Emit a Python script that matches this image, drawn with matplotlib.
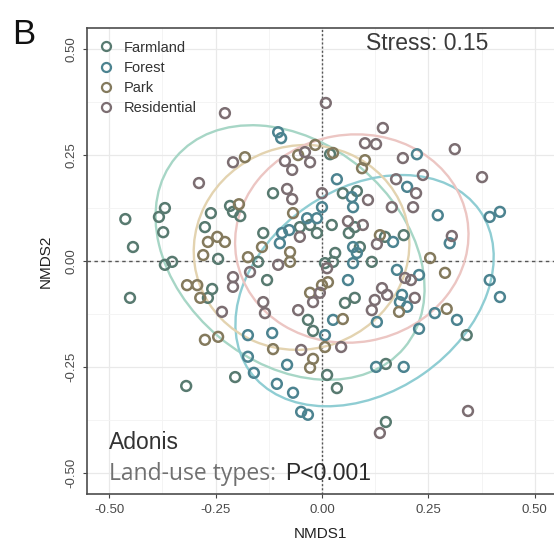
import matplotlib
matplotlib.use("Agg")
import matplotlib.pyplot as plt
from matplotlib.patches import Ellipse
from matplotlib.lines import Line2D

# =========================
# DATA (NMDS scores)
# =========================

groups = ["Farmland", "Forest", "Park", "Residential"]

farm_x = [-0.462, -0.444, -0.451, -0.383, -0.369, -0.373, -0.369, -0.352, -0.268, -0.258,
          -0.319, -0.261, -0.275, -0.244, -0.216, -0.209, -0.192, -0.150, -0.138, -0.129,
          -0.052, -0.028, -0.012, -0.115, 0.007, -0.033, -0.021, 0.012, -0.204, 0.035,
          0.019, 0.049, 0.082, 0.023, 0.077, 0.063, 0.148, 0.192, 0.089, 0.031,
          0.026, 0.117, 0.077, 0.054, 0.340, 0.150, 0.150]
farm_y = [0.099, 0.033, -0.087, 0.104, 0.125, 0.068, -0.009, -0.002, -0.087, -0.066,
          -0.295, 0.113, 0.080, 0.005, 0.130, 0.116, 0.106, -0.002, 0.066, -0.045,
          0.080, 0.085, 0.066, 0.160, -0.005, -0.139, -0.165, -0.269, -0.274, -0.300,
          0.252, 0.160, 0.165, 0.085, 0.080, 0.066, 0.057, 0.061, 0.033, 0.019,
          -0.002, -0.002, -0.087, -0.099, -0.175, -0.243, -0.380]

forest_x = [-0.099, -0.094, -0.077, -0.035, -0.012, 0.000, -0.103, -0.096, 0.007, -0.174,
            -0.117, -0.174, -0.160, -0.082, -0.106, -0.068, -0.049, -0.033, 0.223, 0.035,
            0.200, 0.070, 0.073, 0.272, 0.394, 0.418, 0.300, 0.167, 0.073, 0.082,
            0.073, 0.176, 0.228, 0.394, 0.418, 0.061, 0.188, 0.183, 0.200, 0.265,
            0.317, 0.026, 0.129, 0.228, 0.127, 0.192]
forest_y = [0.042, 0.066, 0.073, 0.101, 0.101, 0.127, 0.304, 0.290, -0.175, -0.175,
            -0.170, -0.226, -0.264, -0.245, -0.290, -0.311, -0.356, -0.363, 0.252, 0.193,
            0.175, 0.151, 0.127, 0.108, 0.104, 0.116, 0.042, 0.045, 0.033, 0.019,
            -0.005, -0.021, -0.033, -0.045, -0.085, -0.045, -0.080, -0.097, -0.108, -0.123,
            -0.139, -0.139, -0.144, -0.160, -0.250, -0.250]

park_x = [-0.317, -0.293, -0.286, -0.181, -0.246, -0.268, -0.228, -0.279, -0.195, -0.174,
          -0.141, -0.075, -0.075, -0.068, -0.056, -0.016, -0.028, 0.000, 0.007, -0.275,
          -0.244, -0.115, -0.021, -0.028, 0.026, 0.101, 0.094, 0.136, 0.254, 0.289,
          0.181, 0.293, 0.049, 0.014]
park_y = [-0.057, -0.057, -0.087, 0.245, 0.057, 0.045, 0.045, 0.014, 0.134, 0.009,
          0.033, -0.002, 0.021, 0.113, 0.250, 0.274, -0.075, -0.057, -0.203, -0.186,
          -0.179, -0.208, -0.231, -0.252, 0.255, 0.238, 0.219, 0.061, 0.007, -0.028,
          -0.120, -0.113, -0.137, -0.050]

resid_x = [-0.235, -0.228, -0.289, -0.209, -0.209, -0.209, -0.169, -0.103, -0.052, -0.082,
           -0.070, 0.000, -0.087, -0.070, -0.040, -0.028, 0.009, -0.138, -0.134, -0.056,
           -0.005, -0.021, -0.049, 0.045, 0.143, 0.101, 0.127, 0.312, 0.190, 0.376,
           0.237, 0.174, 0.221, 0.108, 0.164, 0.214, 0.061, 0.096, 0.305, 0.129,
           0.012, 0.195, 0.209, 0.141, 0.153, 0.124, 0.218, 0.117, 0.343, 0.136]
resid_y = [-0.120, 0.349, 0.184, 0.233, -0.038, -0.061, -0.026, -0.009, 0.057, 0.170,
           0.146, 0.160, 0.236, 0.215, 0.257, 0.233, 0.373, -0.097, -0.123, -0.116,
           -0.075, -0.097, -0.210, -0.203, 0.314, 0.278, 0.276, 0.264, 0.243, 0.198,
           0.203, 0.193, 0.160, 0.144, 0.127, 0.127, 0.094, 0.085, 0.059, 0.040,
           -0.017, -0.040, -0.045, -0.064, -0.080, -0.092, -0.087, -0.116, -0.354, -0.406]

# 95% ellipses: centre x, centre y, width, height, angle
ell_cx = [-0.075, 0.100, -0.048, 0.070]
ell_cy = [0.020, -0.070, 0.032, 0.053]
ell_w = [0.70, 0.66, 0.51, 0.55]
ell_h = [0.52, 0.48, 0.48, 0.49]
ell_ang = [-40, 35, 20, 10]

xs = [farm_x, forest_x, park_x, resid_x]
ys = [farm_y, forest_y, park_y, resid_y]

point_cols = ["#587a70", "#4c8390", "#847a5d", "#7c6e72"]
ell_cols = ["#a7d6c6", "#8fcdd3", "#e3d3b0", "#ecc6c3"]

# =========================
# STYLE
# =========================

plt.rcParams["font.family"] = ["Liberation Sans", "DejaVu Sans"]

fig = plt.figure(figsize=(5.54, 5.43), dpi=100)
ax = fig.add_axes([87 / 554, 49 / 543, 467 / 554, 466 / 543])

ax.set_xlim(-0.552, 0.545)
ax.set_ylim(-0.55, 0.55)

major = [-0.5, -0.25, 0.0, 0.25, 0.5]
ax.set_xticks(major)
ax.set_yticks(major)
ax.set_xticklabels(["-0.50", "-0.25", "0.00", "0.25", "0.50"])
ax.set_yticklabels(["-0.50", "-0.25", "0.00", "0.25", "0.50"], rotation=90, va="center")
ax.set_xticks([-0.375, -0.125, 0.125, 0.375], minor=True)
ax.set_yticks([-0.375, -0.125, 0.125, 0.375], minor=True)
ax.grid(which="major", color="#e9e9e9", linewidth=0.9)
ax.grid(which="minor", color="#f3f3f3", linewidth=0.6)
ax.set_axisbelow(True)
ax.tick_params(which="major", direction="out", length=3, width=0.8, color="#444444",
               labelsize=9.5, labelcolor="#4a4a4a", pad=4)
ax.tick_params(which="minor", length=0)

for side in ["left", "top", "bottom"]:
    ax.spines[side].set_color("#4d4d4d")
    ax.spines[side].set_linewidth(1.2)
ax.spines["right"].set_visible(False)

# reference lines
ax.axhline(0, color="#555555", linewidth=1, linestyle=(0, (2.5, 2.5)), zorder=1)
ax.axvline(0, color="#555555", linewidth=1, linestyle=(0, (1.5, 1.5)), zorder=1)

# =========================
# ELLIPSES + POINTS
# =========================

for i in range(len(groups)):
    ax.add_patch(Ellipse((ell_cx[i], ell_cy[i]), ell_w[i], ell_h[i], angle=ell_ang[i],
                         fill=False, edgecolor=ell_cols[i], linewidth=1.7, zorder=2))

for i in range(len(groups)):
    ax.scatter(xs[i], ys[i], s=50, facecolors="none", edgecolors=point_cols[i],
               linewidths=1.8, zorder=3)

# legend
handles = [Line2D([], [], marker="o", linestyle="none", markersize=6.5,
                  markerfacecolor="none", markeredgecolor=point_cols[i],
                  markeredgewidth=1.6, label=groups[i]) for i in range(len(groups))]
ax.legend(handles=handles, loc="upper left", bbox_to_anchor=(0.0, 0.995),
          frameon=False, fontsize=10.5, labelspacing=0.42, handletextpad=0.6,
          handlelength=1.2, borderaxespad=0.3, labelcolor="#333333")

# =========================
# TEXT
# =========================

ax.text(0.728, 0.953, "Stress: 0.15", transform=ax.transAxes, ha="center",
        va="baseline", fontsize=16.5, color="#3a3a3a")
ax.text(0.047, 0.097, "Adonis", transform=ax.transAxes, ha="left",
        va="baseline", fontsize=16.5, color="#333333")
ax.text(0.047, 0.030, "Land-use types:", transform=ax.transAxes, ha="left",
        va="baseline", fontsize=16.5, color="#707070", family=["Open Sans", "DejaVu Sans"])
ax.text(0.425, 0.030, "P<0.001", transform=ax.transAxes, ha="left",
        va="baseline", fontsize=16.5, color="#2b2b2b")

ax.set_xlabel("NMDS1", fontsize=11, color="#222222", labelpad=8)
ax.set_ylabel("NMDS2", fontsize=11, color="#222222", labelpad=9)

fig.text(12 / 554, 1 - 44 / 543, "B", fontsize=25, color="#111111", ha="left", va="baseline")

fig.savefig("out.png", dpi=100)
